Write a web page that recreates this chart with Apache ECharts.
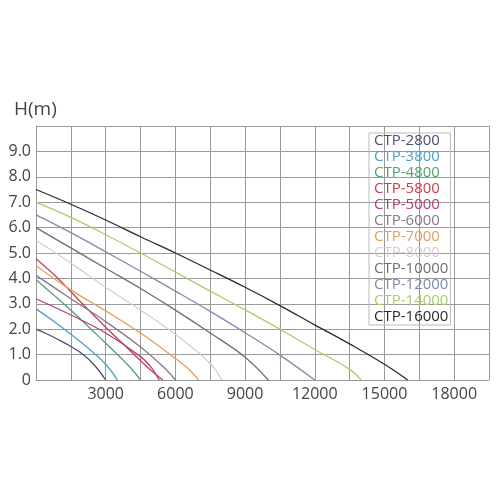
<!DOCTYPE html>
<html>
<head>
<meta charset="utf-8">
<script src="https://cdn.jsdelivr.net/npm/echarts@6/dist/echarts.min.js"></script>
<style>html,body{margin:0;padding:0;background:#fff}#c{width:500px;height:500px}</style>
</head>
<body>
<div id="c"></div>
<script>
const models = ['CTP-2800','CTP-3800','CTP-4800','CTP-5800','CTP-5000','CTP-6000','CTP-7000','CTP-8000','CTP-10000','CTP-12000','CTP-14000','CTP-16000'];
const colors = ['#4a4e6e','#4d9fc4','#4fa274','#c8404e','#b0407a','#8a7690','#e0a060','#dccbd3','#6e6e78','#7c8cab','#a5cf6a','#2a2a2a'];
const xTickLabels = [3000, 6000, 9000, 12000, 15000, 18000];
const yTickLabels = ['0','1.0','2.0','3.0','4.0','5.0','6.0','7.0','8.0','9.0'];

const s2800 = [[0,2.0],[500,1.8],[1000,1.57],[1500,1.32],[2000,1.02],[2500,0.6],[3000,0]];
const s3800 = [[0,2.8],[750,2.32],[1500,1.8],[2250,1.25],[3000,0.62],[3500,0]];
const s4800 = [[0,3.95],[1500,2.75],[3000,1.45],[4000,0.55],[4500,0]];
const s5800 = [[0,4.77],[1000,3.95],[2000,3.0],[3000,2.08],[4000,1.2],[4800,0.5],[5450,0]];
const s5000 = [[0,3.2],[1500,2.56],[3000,1.85],[4500,0.92],[5000,0.45],[5300,0]];
const s6000 = [[0,4.12],[1500,3.2],[3000,2.3],[4500,1.3],[5500,0.5],[6000,0]];
const s7000 = [[0,4.5],[1500,3.55],[3000,2.72],[4500,1.85],[6000,0.85],[6600,0.4],[7000,0]];
const s8000 = [[0,5.5],[1500,4.6],[3000,3.65],[4500,2.75],[6000,1.8],[7500,0.65],[8000,0]];
const s10000 = [[0,6.0],[1500,5.2],[3000,4.4],[4500,3.6],[6000,2.75],[7500,1.85],[9000,0.9],[10000,0]];
const s12000 = [[0,6.5],[1500,5.8],[3000,5.05],[4500,4.28],[6000,3.5],[7500,2.7],[9000,1.86],[10500,0.98],[12000,0]];
const s14000 = [[0,7.0],[1500,6.4],[3000,5.72],[4500,5.0],[6000,4.25],[7500,3.5],[9000,2.76],[10500,2.0],[12000,1.2],[13500,0.42],[14000,0]];
const s16000 = [[0,7.5],[1500,6.92],[3000,6.3],[4500,5.64],[6000,5.0],[7500,4.33],[9000,3.65],[10500,2.93],[12000,2.17],[13500,1.42],[15000,0.62],[16000,0]];

const seriesData = [s2800,s3800,s4800,s5800,s5000,s6000,s7000,s8000,s10000,s12000,s14000,s16000];
const FONT = 'Open Sans';
const gridColor = '#9a9a9a';

const chart = echarts.init(document.getElementById('c'));
chart.setOption({
  animation: false,
  backgroundColor: '#fff',
  grid: { left: 36, right: 11, top: 126, bottom: 120, containLabel: false },
  graphic: [{
    type: 'text', left: 14, top: 100,
    style: { text: 'H(m)', font: '19px "Open Sans"', fill: '#444' }
  }],
  legend: {
    orient: 'vertical', left: 369, top: 133,
    selectedMode: false,
    icon: 'rect', itemWidth: 0, itemHeight: 16, itemGap: 0,
    itemStyle: { opacity: 0 },
    padding: [0, 2, 0, 0],
    borderColor: '#bbbbbb', borderWidth: 1,
    textStyle: { fontFamily: FONT, fontSize: 15 },
    data: models.map((m, i) => ({ name: m, textStyle: { color: colors[i], fontFamily: FONT, fontSize: 15 } }))
  },
  xAxis: {
    type: 'value', min: 0, max: 19500, interval: 1500,
    axisLine: { show: true, lineStyle: { color: gridColor, width: 1 } },
    axisTick: { show: false },
    splitLine: { show: true, lineStyle: { color: gridColor, width: 1 } },
    axisLabel: {
      margin: 6, color: '#444', fontFamily: FONT, fontSize: 16,
      formatter: v => xTickLabels.indexOf(v) >= 0 ? String(v) : ''
    }
  },
  yAxis: {
    type: 'value', min: 0, max: 10, interval: 1,
    axisLine: { show: true, lineStyle: { color: gridColor, width: 1 } },
    axisTick: { show: false },
    splitLine: { show: true, lineStyle: { color: gridColor, width: 1 } },
    axisLabel: {
      margin: 5, color: '#444', fontFamily: FONT, fontSize: 16,
      formatter: v => (v < yTickLabels.length ? yTickLabels[v] : '')
    }
  },
  series: seriesData.map((d, i) => ({
    name: models[i], type: 'line', data: d,
    smooth: 0.4,
    showSymbol: false, symbol: 'none',
    lineStyle: { color: colors[i], width: 1.3 },
    itemStyle: { color: colors[i] }
  }))
});
</script>
</body>
</html>
